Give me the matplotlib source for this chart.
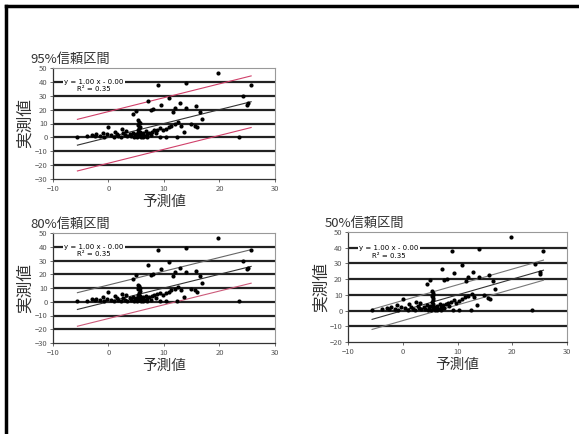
import numpy as np
import matplotlib
matplotlib.use('Agg')
import matplotlib.pyplot as plt
from matplotlib.lines import Line2D

plt.rcParams['font.family'] = ['Noto Sans CJK JP', 'DejaVu Sans']

# 予測値 / 実測値 (読み取り値)
yosoku = [19.7, 9.0, 14.0, 25.7, 24.2, 25.0, 25.1, 10.9, 7.1, 9.4, 12.9, 7.6, 8.0,
          4.5, 5.0, 11.6, 11.9, 14.0, 15.8, 16.4, 16.9, 15.6, 16.0, 13.6, 10.9,
          12.6, 12.0, 10.3, 9.8, 11.3, 13.1, 14.8, 9.2, 10.3, 12.4, 23.6, -5.6,
          -3.8, -2.9, -2.5, -2.2, 0.0, 2.4,
          5.3, 5.5, 5.6, 5.4, 5.6, 5.5, 5.3, 5.6, 5.4, 5.7, 5.5, 5.2, 5.8,
          -1.5, -0.8, -0.3, 0.5, 1.0, 1.5, 1.8, 2.3, 2.7, 3.0, 3.4, 3.8, 4.1,
          4.4, 4.6, 4.8, 5.0, 6.0, 6.3, 6.5, 6.8, 7.0, 7.3, 7.6, 7.9, 8.2, 8.5,
          8.8, 9.3, 6.2, 7.0, 3.2, 1.2, -1.0]
jissoku = [46.7, 37.6, 39.4, 37.6, 29.5, 23.5, 24.5, 28.7, 26.5, 23.6, 24.6, 19.7, 20.3,
           16.6, 19.2, 18.6, 21.3, 21.4, 22.6, 18.6, 13.6, 8.2, 7.4, 3.6, 7.4,
           10.8, 9.5, 6.3, 5.0, 8.5, 8.4, 9.6, 0.3, 0.3, 0.3, 0.4, 0.4,
           0.8, 1.7, 1.2, 2.3, 7.3, 5.7,
           12.3, 11.3, 10.2, 9.0, 7.8, 6.5, 5.2, 4.0, 3.0, 2.0, 1.0, 0.3, 0.5,
           1.0, 0.5, 2.2, 1.5, 0.6, 2.5, 1.2, 0.4, 3.0, 1.4, 0.8, 2.4, 1.0,
           3.5, 0.3, 1.8, 2.6, 2.0, 3.2, 1.0, 4.5, 2.5, 3.5, 1.5, 4.0, 5.0, 3.0,
           5.6, 6.5, 0.4, 0.5, 4.8, 4.0, 3.5]

# 回帰式 y = 1.00x - 0.00 と各信頼区間の幅
katamuki = 1.00
seppen = 0.00
titles = ['95%信頼区間', '80%信頼区間', '50%信頼区間']
haba = [18.6, 12.2, 6.4]
ylims = [(-30, 50), (-30, 50), (-20, 50)]
band_colors = [('#d0406a', '#d0406a'), ('#666666', '#cc5a7a'), ('#777777', '#777777')]

# 各グラフの位置 (ピクセル: 左, 右, 上, 下)
W, H = 579, 434
posiciones = [(53, 275, 68, 179), (53, 275, 233, 343), (348, 567, 232, 342)]

fig = plt.figure(figsize=(W / 100, H / 100), dpi=100)
fig.patch.set_facecolor('white')

# 外枠 (上と左)
fig.add_artist(Line2D([6 / W, 1], [1 - 6 / H, 1 - 6 / H], color='black', lw=2.5))
fig.add_artist(Line2D([6 / W, 6 / W], [0, 1 - 6 / H], color='black', lw=2.5))

xs = np.array([min(yosoku), max(yosoku)])
for i in range(3):
    l, r, t, b = posiciones[i]
    ax = fig.add_axes([l / W, 1 - b / H, (r - l) / W, (b - t) / H])
    y0, y1 = ylims[i]
    ax.set_xlim(-10, 30)
    ax.set_ylim(y0, y1)
    ax.set_xticks(range(-10, 31, 10))
    ax.set_yticks(range(y0, y1 + 1, 10))
    for g in range(y0 + 10, y1, 10):
        ax.axhline(g, color='#222222', lw=1.6, zorder=1)
    ax.tick_params(labelsize=5.5, colors='#555555', length=2, width=0.6, pad=2)
    for s in ['top', 'right']:
        ax.spines[s].set_color('#999999')
        ax.spines[s].set_linewidth(0.8)
    for s in ['left', 'bottom']:
        ax.spines[s].set_color('#333333')
        ax.spines[s].set_linewidth(0.9)

    fit = katamuki * xs + seppen
    ax.plot(xs, fit, color='#333333', lw=0.8, zorder=3)
    ax.plot(xs, fit + haba[i], color=band_colors[i][0], lw=0.8, zorder=3)
    ax.plot(xs, fit - haba[i], color=band_colors[i][1], lw=0.8, zorder=3)
    ax.scatter(yosoku, jissoku, s=9, color='black', zorder=4, linewidths=0)

    ax.text(-8.0, 40, 'y = 1.00 x - 0.00', fontsize=5, family='DejaVu Sans', va='center',
            bbox=dict(facecolor='white', edgecolor='none', pad=1.0), zorder=5)
    ax.text(-5.6, 35, 'R² = 0.35', fontsize=5, family='DejaVu Sans', va='center',
            zorder=5)

    fig.text((l - 23) / W, 1 - (t - 9) / H, titles[i], fontsize=9.5, va='center', ha='left',
             color='#333333')
    ax.set_ylabel('実測値', fontsize=12, color='#333333')
    ax.yaxis.set_label_coords(-0.085, 0.5)
    ax.set_xlabel('予測値', fontsize=10.5, color='#333333', labelpad=2)

fig.savefig('out.png', dpi=100, facecolor='white')
